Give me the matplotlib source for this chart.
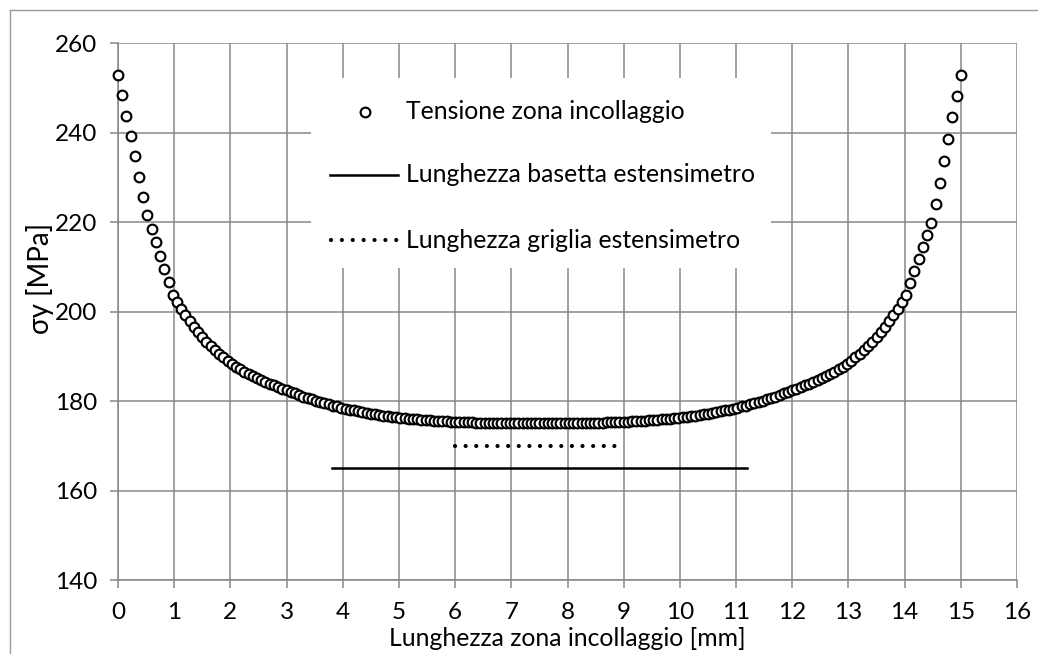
import numpy as np
import matplotlib
matplotlib.use("Agg")
import matplotlib.pyplot as plt
from matplotlib.lines import Line2D
from matplotlib.patches import Rectangle

plt.rcParams['font.family'] = ['Lato', 'DejaVu Sans']

# ---------------- data ----------------
X_START, X_END, N_POINTS = 0.0, 15.0, 201
stress = [
    253.0, 248.4, 243.8, 239.3, 234.7, 230.1, 225.6, 221.6, 218.5, 215.5,
    212.5, 209.5, 206.6, 203.7, 202.1, 200.6, 199.2, 197.9, 196.6, 195.4,
    194.3, 193.3, 192.3, 191.4, 190.6, 189.8, 189.0, 188.3, 187.7, 187.1,
    186.6, 186.1, 185.6, 185.1, 184.7, 184.3, 183.9, 183.5, 183.1, 182.7,
    182.4, 182.0, 181.7, 181.3, 181.0, 180.7, 180.4, 180.1, 179.8, 179.5,
    179.3, 179.0, 178.8, 178.5, 178.3, 178.1, 177.9, 177.7, 177.5, 177.3,
    177.2, 177.0, 176.9, 176.7, 176.6, 176.5, 176.4, 176.3, 176.2, 176.1,
    176.0, 175.9, 175.8, 175.75, 175.7, 175.6, 175.55, 175.5, 175.45, 175.4,
    175.35, 175.3, 175.27, 175.24, 175.21, 175.18, 175.15, 175.13, 175.11, 175.09,
    175.07, 175.06, 175.05, 175.04, 175.03, 175.02, 175.01, 175.01, 175.0, 175.0,
    175.0,
    175.0, 175.0, 175.01, 175.01, 175.02, 175.03, 175.04, 175.05, 175.06, 175.07,
    175.09, 175.11, 175.13, 175.15, 175.18, 175.21, 175.24, 175.27, 175.3, 175.35,
    175.4, 175.45, 175.5, 175.55, 175.6, 175.7, 175.75, 175.8, 175.9, 176.0,
    176.1, 176.2, 176.3, 176.4, 176.5, 176.6, 176.7, 176.9, 177.0, 177.2,
    177.3, 177.5, 177.7, 177.9, 178.1, 178.3, 178.5, 178.8, 179.0, 179.3,
    179.5, 179.8, 180.1, 180.4, 180.7, 181.0, 181.3, 181.7, 182.0, 182.4,
    182.7, 183.1, 183.5, 183.9, 184.3, 184.7, 185.1, 185.6, 186.1, 186.6,
    187.1, 187.7, 188.3, 189.0, 189.8, 190.6, 191.4, 192.3, 193.3, 194.3,
    195.4, 196.6, 197.9, 199.2, 200.6, 202.1, 203.6, 206.3, 209.0, 211.7,
    214.4, 217.1, 219.9, 224.0, 228.8, 233.7, 238.5, 243.4, 248.3, 253.0,
]
position = np.linspace(X_START, X_END, N_POINTS)

basetta_x = [3.8, 11.2]
basetta_y = [165, 165]
griglia_x = [6.0, 8.86]
griglia_y = [170, 170]

x_ticks = list(range(0, 17))
y_ticks = [140, 160, 180, 200, 220, 240, 260]

series_labels = ["Tensione zona incollaggio",
                 "Lunghezza basetta estensimetro",
                 "Lunghezza griglia estensimetro"]
x_title = "Lunghezza zona incollaggio [mm]"
y_title = "σy [MPa]"

# ---------------- figure ----------------
W, H = 1038, 654
fig = plt.figure(figsize=(W / 100, H / 100), dpi=100)

def fx(px):
    return px / W

def fy(py):
    return 1 - py / H

ax_l, ax_r, ax_t, ax_b = 118, 1017, 43.2, 580
ax = fig.add_axes([fx(ax_l), fy(ax_b), fx(ax_r - ax_l), (ax_b - ax_t) / H])

GRID = '#878787'
GLW = 1.1
ax.set_xlim(0, 16)
ax.set_ylim(140, 260)
ax.set_xticks(x_ticks)
ax.set_yticks(y_ticks)
ax.grid(True, color=GRID, linewidth=GLW, zorder=0)
ax.set_axisbelow(True)
for s in ['top', 'right']:
    ax.spines[s].set_visible(False)
for s in ['left', 'bottom']:
    ax.spines[s].set_color(GRID)
    ax.spines[s].set_linewidth(GLW)
ax.tick_params(axis='both', direction='out', length=6, width=GLW, color=GRID,
               labelsize=17.5, labelcolor='black')
ax.tick_params(axis='x', pad=10)
ax.tick_params(axis='y', pad=9)

MS = 7.0
MEW = 1.55
ax.plot(position, stress, linestyle='none', marker='o', markersize=MS,
        markerfacecolor='white', markeredgecolor='black', markeredgewidth=MEW,
        zorder=3, clip_on=False)
ax.plot(basetta_x, basetta_y, color='black', linewidth=1.8, zorder=3)
DOT_LW = 3.0
ax.plot(griglia_x, griglia_y, color='black', linewidth=DOT_LW,
        linestyle=(0, (0.01, 2.54)), dash_capstyle='round', zorder=3)

# axis titles
fig.text(fx(567), fy(639), x_title, ha='center', va='center', fontsize=17.8)
fig.text(fx(40), fy(278), y_title, ha='center', va='center', fontsize=20,
         rotation=90)

# legend (manual, white box over gridlines)
fig.patches.append(Rectangle((fx(311), fy(268)), fx(771 - 311), (268 - 78) / H,
                             transform=fig.transFigure, facecolor='white',
                             edgecolor='none', zorder=1))
leg_rows = [111.5, 175, 240]
fig.lines.append(Line2D([fx(364.5)], [fy(leg_rows[0])], transform=fig.transFigure,
                        linestyle='none', marker='o', markersize=MS,
                        markerfacecolor='white', markeredgecolor='black',
                        markeredgewidth=MEW, zorder=2))
fig.lines.append(Line2D([fx(330), fx(398)], [fy(leg_rows[1])] * 2,
                        transform=fig.transFigure, color='black', linewidth=1.8,
                        zorder=2))
fig.lines.append(Line2D([fx(331), fx(398)], [fy(leg_rows[2])] * 2,
                        transform=fig.transFigure, color='black', linewidth=DOT_LW,
                        linestyle=(0, (0.01, 2.6)), dash_capstyle='round',
                        zorder=2))
for lab, yy in zip(series_labels, leg_rows):
    fig.text(fx(406), fy(yy), lab, ha='left', va='center', fontsize=17.8, zorder=2)

# chart-area border (left and top edges visible)
fig.lines.append(Line2D([fx(10), fx(10)], [fy(10), fy(H + 5)],
                        transform=fig.transFigure, color='#9a9a9a', linewidth=1.0))
fig.lines.append(Line2D([fx(10), fx(W + 5)], [fy(10), fy(10)],
                        transform=fig.transFigure, color='#9a9a9a', linewidth=1.0))

fig.savefig('out.png', dpi=100)
